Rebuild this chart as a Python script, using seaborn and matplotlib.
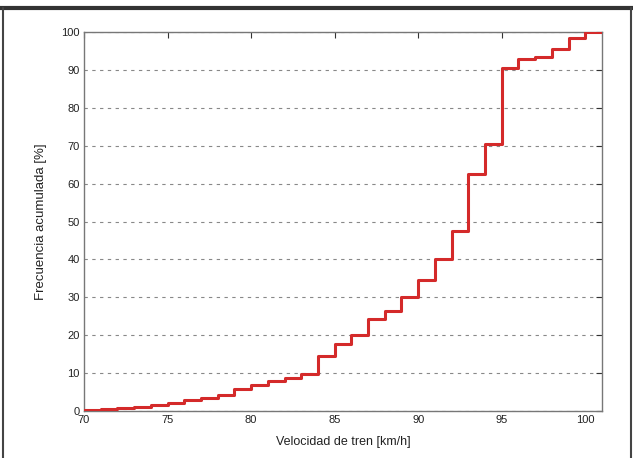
import matplotlib
matplotlib.use("Agg")
import matplotlib.pyplot as plt
import seaborn as sns
import pandas as pd

# Data: cumulative frequency (%) vs train speed (km/h), step (post) values
speed = [70, 71, 72, 73, 74, 75, 76, 77, 78, 79, 80, 81, 82, 83, 84, 85, 86,
         87, 88, 89, 90, 91, 92, 93, 94, 95, 96, 97, 98, 99, 100, 101]
cum_freq = [0.2, 0.5, 0.8, 1.1, 1.5, 2.0, 2.8, 3.5, 4.2, 5.8, 6.8, 7.8, 8.8, 9.8,
            14.6, 17.8, 20.0, 24.3, 26.5, 30.0, 34.6, 40.0, 47.5, 62.5, 70.4,
            90.6, 92.8, 93.5, 95.4, 98.4, 100.0, 100.0]
x_ticks = [70, 75, 80, 85, 90, 95, 100]
y_ticks = [0, 10, 20, 30, 40, 50, 60, 70, 80, 90, 100]

sns.set_theme(style="white")
plt.rcParams['font.family'] = ['Liberation Sans', 'DejaVu Sans']

df = pd.DataFrame({"speed": speed, "cum": cum_freq})

fig = plt.figure(figsize=(6.33, 4.58), dpi=100)
ax = fig.add_axes([84 / 633, 1 - 411 / 458, (602 - 84) / 633, (411 - 32) / 458])

sns.lineplot(data=df, x="speed", y="cum", ax=ax, drawstyle="steps-post",
             color="#d42a2a", linewidth=2.2, zorder=3)

ax.set_xlim(70, 101)
ax.set_ylim(0, 100)
ax.set_xticks(x_ticks)
ax.set_yticks(y_ticks)
ax.tick_params(axis="both", direction="in", length=4, width=0.8,
               labelsize=8, colors="#333333", top=True, right=True,
               labelcolor="#222222", pad=3)
ax.yaxis.grid(True, linestyle=(0, (3, 4)), color="#888888", linewidth=0.8)
ax.xaxis.grid(False)
for s in ax.spines.values():
    s.set_color("#777777")
    s.set_linewidth(1.0)

ax.set_xlabel("Velocidad de tren [km/h]", fontsize=9, color="#222222", labelpad=8)
ax.set_ylabel("Frecuencia acumulada [%]", fontsize=9.5, color="#222222", labelpad=10)

# outer frame (top thick, left and right thin)
fig.add_artist(plt.Line2D([0, 1], [1 - 8 / 458, 1 - 8 / 458],
                          transform=fig.transFigure, color="#333333", linewidth=3))
fig.add_artist(plt.Line2D([2.5 / 633, 2.5 / 633], [0, 1 - 8 / 458],
                          transform=fig.transFigure, color="#444444", linewidth=1.5))
fig.add_artist(plt.Line2D([630.5 / 633, 630.5 / 633], [0, 1 - 8 / 458],
                          transform=fig.transFigure, color="#444444", linewidth=1.5))

fig.savefig("out.png", dpi=100)
